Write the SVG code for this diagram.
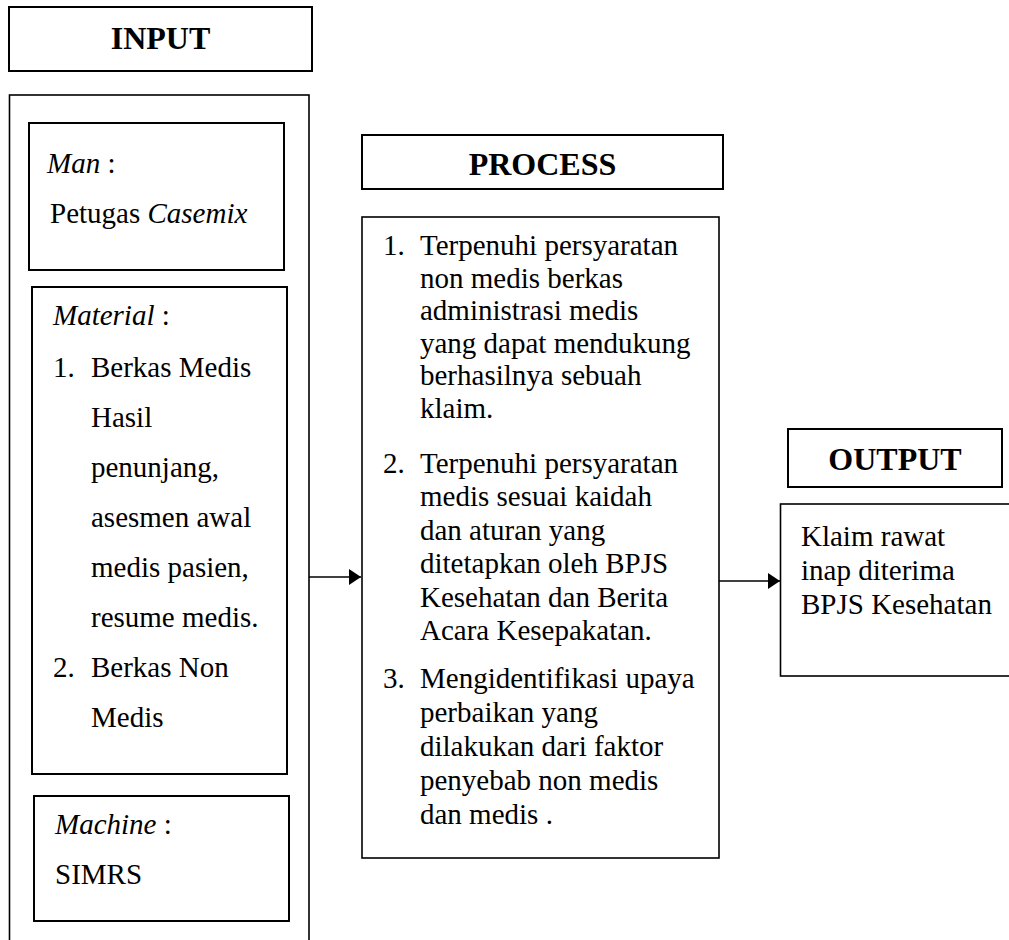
<svg xmlns="http://www.w3.org/2000/svg" width="1009" height="940" viewBox="0 0 1009 940">
<style>
.box{fill:#fff;stroke:#000;stroke-width:1.6}
.tb{stroke-width:2}
.t{font-family:"Liberation Serif","Times New Roman",serif;font-size:29px;fill:#000}
.h{font-family:"Liberation Serif","Times New Roman",serif;font-size:32px;font-weight:bold;fill:#000;text-anchor:middle}
.i{font-style:italic}
.ln{stroke:#000;stroke-width:1.6;fill:none}
</style>
<defs>
<marker id="ah" markerWidth="12" markerHeight="16" refX="12" refY="8" orient="auto" markerUnits="userSpaceOnUse">
<path d="M0,0 L12,8 L0,16 Z" fill="#000"/>
</marker>
</defs>
<rect width="1009" height="940" fill="#fff"/>
<g id="input-title">
<rect class="box tb" x="9" y="7" width="303" height="64"/>
<text class="h" x="160.5" y="49">INPUT</text>
</g>
<g id="input-frame">
<rect class="box" x="9.5" y="95" width="299.5" height="860"/>
</g>
<g id="man">
<rect class="box tb" x="29" y="123" width="255" height="147"/>
<text class="t" x="47" y="173"><tspan class="i">Man</tspan> :</text>
<text class="t" x="50" y="223">Petugas <tspan class="i">Casemix</tspan></text>
</g>
<g id="material">
<rect class="box tb" x="32" y="287" width="255" height="487"/>
<text class="t" x="53" y="325"><tspan class="i">Material</tspan> :</text>
<text class="t" x="53" y="377">1.</text>
<text class="t" x="91" y="377">Berkas Medis</text>
<text class="t" x="91" y="427">Hasil</text>
<text class="t" x="91" y="477">penunjang,</text>
<text class="t" x="91" y="527">asesmen awal</text>
<text class="t" x="91" y="577">medis pasien,</text>
<text class="t" x="91" y="627">resume medis.</text>
<text class="t" x="53" y="677">2.</text>
<text class="t" x="91" y="677">Berkas Non</text>
<text class="t" x="91" y="727">Medis</text>
</g>
<g id="machine">
<rect class="box tb" x="34" y="796" width="255" height="125"/>
<text class="t" x="55" y="834"><tspan class="i">Machine</tspan> :</text>
<text class="t" x="55" y="884">SIMRS</text>
</g>
<g id="process-title">
<rect class="box tb" x="362" y="135" width="361" height="54"/>
<text class="h" x="542.5" y="175">PROCESS</text>
</g>
<g id="process">
<rect class="box" x="362" y="217" width="357" height="641"/>
<text class="t" x="383" y="255">1.</text>
<text class="t" x="420" y="255">Terpenuhi persyaratan</text>
<text class="t" x="420" y="288">non medis berkas</text>
<text class="t" x="420" y="320">administrasi medis</text>
<text class="t" x="420" y="353">yang dapat mendukung</text>
<text class="t" x="420" y="385">berhasilnya sebuah</text>
<text class="t" x="420" y="418">klaim.</text>
<text class="t" x="383" y="473">2.</text>
<text class="t" x="420" y="473">Terpenuhi persyaratan</text>
<text class="t" x="420" y="506">medis sesuai kaidah</text>
<text class="t" x="420" y="540">dan aturan yang</text>
<text class="t" x="420" y="573">ditetapkan oleh BPJS</text>
<text class="t" x="420" y="607">Kesehatan dan Berita</text>
<text class="t" x="420" y="640">Acara Kesepakatan.</text>
<text class="t" x="383" y="688">3.</text>
<text class="t" x="420" y="688">Mengidentifikasi upaya</text>
<text class="t" x="420" y="722">perbaikan yang</text>
<text class="t" x="420" y="756">dilakukan dari faktor</text>
<text class="t" x="420" y="790">penyebab non medis</text>
<text class="t" x="420" y="824">dan medis .</text>
</g>
<g id="output-title">
<rect class="box tb" x="788" y="429" width="214" height="58"/>
<text class="h" x="895" y="470">OUTPUT</text>
</g>
<g id="output">
<rect class="box" x="780.5" y="504" width="240" height="172"/>
<text class="t" x="801" y="546">Klaim rawat</text>
<text class="t" x="801" y="580">inap diterima</text>
<text class="t" x="801" y="614">BPJS Kesehatan</text>
</g>
<g id="connectors">
<line class="ln" x1="309" y1="577" x2="361" y2="577" marker-end="url(#ah)"/>
<line class="ln" x1="719" y1="581" x2="780" y2="581" marker-end="url(#ah)"/>
</g>
</svg>
